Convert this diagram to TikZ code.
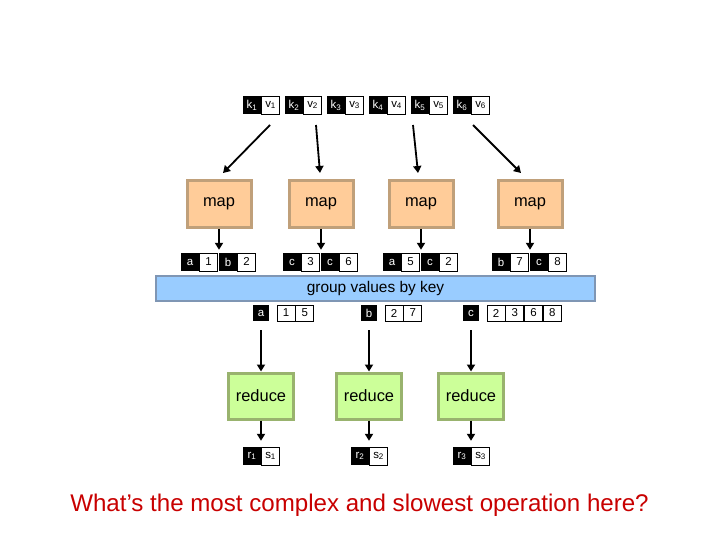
\documentclass[tikz,border=0pt]{standalone}
\usepackage{fontspec}
\setmainfont{Liberation Sans}
\usetikzlibrary{arrows.meta}

\definecolor{mapfill}{RGB}{255,204,153}
\definecolor{mapline}{RGB}{192,160,122}
\definecolor{redfill}{RGB}{204,255,153}
\definecolor{redline}{RGB}{153,179,110}
\definecolor{barfill}{RGB}{153,204,255}
\definecolor{barline}{RGB}{127,150,180}
\definecolor{question}{RGB}{200,0,0}

\tikzset{
  keycell/.style={fill=black,text=white,minimum width=18bp,minimum height=18bp,
    inner sep=0pt,font=\fontsize{11.5}{11.5}\selectfont},
  valcell/.style={draw=black,line width=.8bp,fill=white,minimum width=18bp,
    minimum height=18bp,inner sep=0pt,font=\fontsize{11.5}{11.5}\selectfont},
  mapbox/.style={draw=mapline,line width=3bp,fill=mapfill,minimum width=64bp,
    minimum height=47bp,font=\fontsize{16.5}{16.5}\selectfont},
  reducebox/.style={draw=redline,line width=3bp,fill=redfill,minimum width=65bp,
    minimum height=46bp,font=\fontsize{16.5}{16.5}\selectfont},
  flow/.style={line width=1.8bp,-{Triangle[length=7bp,width=8bp]}}
}

\begin{document}
\begin{tikzpicture}[x=1bp,y=-1bp]
\useasboundingbox (0,0) rectangle (720,540);

% input pairs
\node[keycell] (k1) at (252,105) {k\textsubscript{1}};
\node[valcell,anchor=west] (v1) at (k1.east) {v\textsubscript{1}};
\node[keycell] (k2) at (294,105) {k\textsubscript{2}};
\node[valcell,anchor=west] (v2) at (k2.east) {v\textsubscript{2}};
\node[keycell] (k3) at (336,105) {k\textsubscript{3}};
\node[valcell,anchor=west] (v3) at (k3.east) {v\textsubscript{3}};
\node[keycell] (k4) at (378,105) {k\textsubscript{4}};
\node[valcell,anchor=west] (v4) at (k4.east) {v\textsubscript{4}};
\node[keycell] (k5) at (420,105) {k\textsubscript{5}};
\node[valcell,anchor=west] (v5) at (k5.east) {v\textsubscript{5}};
\node[keycell] (k6) at (462,105) {k\textsubscript{6}};
\node[valcell,anchor=west] (v6) at (k6.east) {v\textsubscript{6}};

\coordinate (s1) at (270,125);
\coordinate (s2) at (316,125);
\coordinate (s3) at (413,125);
\coordinate (s4) at (473,125);

% map tasks
\node[mapbox] (m1) at (219,204) {map};
\node[mapbox] (m2) at (321,204) {map};
\node[mapbox] (m3) at (421,204) {map};
\node[mapbox] (m4) at (530,204) {map};

\draw[flow] (s1) -- ([xshift=4bp,yshift=6bp]m1.north);
\draw[flow] (s2) -- ([xshift=-1bp,yshift=6bp]m2.north);
\draw[flow] (s3) -- ([xshift=-3bp,yshift=6bp]m3.north);
\draw[flow] (s4) -- ([xshift=-9bp,yshift=6bp]m4.north);

% intermediate pairs
\node[keycell] (a1) at (190,262) {a};
\node[valcell,anchor=west] (n1) at (a1.east) {1};
\node[keycell] (b2) at (228,262) {b};
\node[valcell,anchor=west] (n2) at (b2.east) {2};
\node[keycell] (c3) at (292,262) {c};
\node[valcell,anchor=west] (n3) at (c3.east) {3};
\node[keycell] (c6) at (330,262) {c};
\node[valcell,anchor=west] (n6) at (c6.east) {6};
\node[keycell] (a5) at (392,262) {a};
\node[valcell,anchor=west] (n5) at (a5.east) {5};
\node[keycell] (c2) at (430,262) {c};
\node[valcell,anchor=west] (nc2) at (c2.east) {2};
\node[keycell] (b7) at (501,262) {b};
\node[valcell,anchor=west] (n7) at (b7.east) {7};
\node[keycell] (c8) at (539,262) {c};
\node[valcell,anchor=west] (n8) at (c8.east) {8};

\draw[flow,shorten >=3bp] (m1.south) -- (m1.south |- a1.north);
\draw[flow,shorten >=3bp] (m2.south) -- (m2.south |- c3.north);
\draw[flow,shorten >=3bp] (m3.south) -- (m3.south |- a5.north);
\draw[flow,shorten >=3bp] (m4.south) -- (m4.south |- b7.north);

% shuffle
\node[draw=barline,line width=2bp,fill=barfill,minimum width=439bp,minimum height=25bp,
  inner sep=0pt,font=\fontsize{15.5}{15.5}\selectfont] (group) at (375.5,288.5)
  {group values by key};

\node[keycell,minimum width=16bp,minimum height=16bp] (ga) at (261,313) {a};
\node[valcell,minimum height=16bp] (ga1) at (286,313) {1};
\node[valcell,minimum height=16bp,anchor=west] (ga2) at (ga1.east) {5};
\node[keycell,minimum width=16bp,minimum height=16bp] (gb) at (369,313) {b};
\node[valcell,minimum height=16bp] (gb1) at (394,313) {2};
\node[valcell,minimum height=16bp,anchor=west] (gb2) at (gb1.east) {7};
\node[keycell,minimum width=16bp,minimum height=16bp] (gc) at (471,313) {c};
\node[valcell,minimum height=16bp] (gc1) at (496,313) {2};
\node[valcell,minimum height=16bp,anchor=west] (gc2) at (gc1.east) {3};
\node[valcell,minimum height=16bp,anchor=west] (gc3) at (gc2.east) {6};
\node[valcell,minimum height=16bp,anchor=west] (gc4) at (gc3.east) {8};

% reduce tasks
\node[reducebox] (r1) at (261,396) {reduce};
\node[reducebox] (r2) at (369,396) {reduce};
\node[reducebox] (r3) at (471,396) {reduce};

\draw[flow,shorten <=9bp] (ga.south) -- (r1.north);
\draw[flow,shorten <=9bp] (gb.south) -- (r2.north);
\draw[flow,shorten <=9bp] (gc.south) -- (r3.north);

% output pairs
\node[keycell] (rk1) at (252,456) {r\textsubscript{1}};
\node[valcell,anchor=west] (rs1) at (rk1.east) {s\textsubscript{1}};
\node[keycell] (rk2) at (360,456) {r\textsubscript{2}};
\node[valcell,anchor=west] (rs2) at (rk2.east) {s\textsubscript{2}};
\node[keycell] (rk3) at (462,456) {r\textsubscript{3}};
\node[valcell,anchor=west] (rs3) at (rk3.east) {s\textsubscript{3}};

\draw[flow,shorten >=6bp] (r1.south) -- (r1.south |- rk1.north);
\draw[flow,shorten >=6bp] (r2.south) -- (r2.south |- rk2.north);
\draw[flow,shorten >=6bp] (r3.south) -- (r3.south |- rk3.north);

\node[text=question,font=\fontsize{24.2}{24.2}\selectfont] (ask) at (359.5,505)
  {What’s the most complex and slowest operation here?};
\end{tikzpicture}
\end{document}
